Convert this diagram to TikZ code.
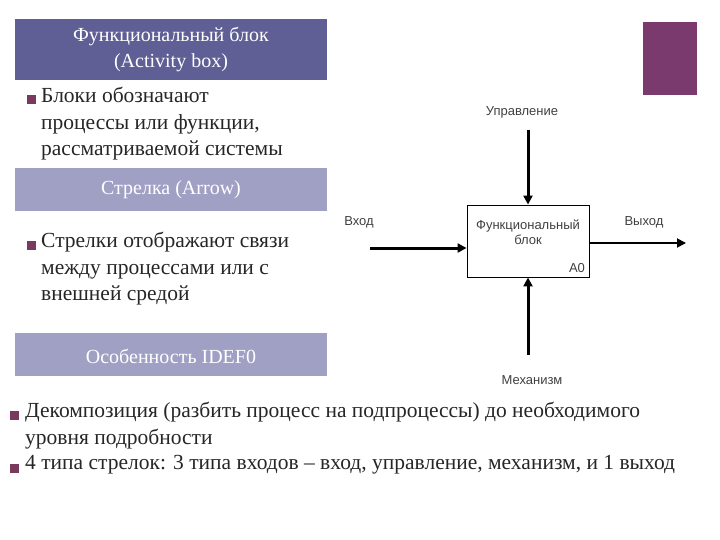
\documentclass[tikz,border=0pt]{standalone}
\usepackage{fontspec}
\setmainfont{Liberation Serif}
\newfontfamily\lsans{Liberation Sans}
\usetikzlibrary{arrows.meta}
\definecolor{hdark}{HTML}{5F5F96}
\definecolor{hlight}{HTML}{A0A0C4}
\definecolor{plum}{HTML}{7A3A6E}
\definecolor{bul}{HTML}{7A3A5E}
\tikzset{
 hdr/.style={inner sep=0pt,text=white,font=\fontsize{20}{26}\selectfont,align=center},
 txt/.style={anchor=north west,inner sep=0pt,align=left,font=\fontsize{21.5}{26.5}\selectfont,text=black!85},
 bsq/.style={fill=bul,minimum size=9pt,inner sep=0pt},
 lab/.style={font=\lsans\fontsize{13}{15}\selectfont,text=black!75,inner sep=0pt},
 arr/.style={line width=3pt,-{Triangle[length=9pt,width=9pt]}},
}
\begin{document}
\begin{tikzpicture}[x=1pt,y=-1pt]
\useasboundingbox (0,0) rectangle (720,540);
% headers
\fill[hdark] (15,19) rectangle (327,80);
\node[hdr] (h1) at (171,50) {Функциональный блок\\(Activity box)};
\fill[hlight] (15,168) rectangle (327,211);
\node[hdr] (h2) at (171,190) {Стрелка (Arrow)};
\fill[hlight] (15,333) rectangle (327,376);
\node[hdr] (h3) at (171,356) {Особенность IDEF0};
\fill[plum] (643,22) rectangle (697,95);
% bullets
\node[bsq] (b1) at (31,100) {};
\node[txt] (t1) at (41,87) {Блоки обозначают\\процессы или функции,\\рассматриваемой системы};
\node[bsq] (b2) at (31,245) {};
\node[txt] (t2) at (41,232) {Стрелки отображают связи\\между процессами или с\\внешней средой};
\node[bsq] (b3) at (14,415) {};
\node[txt] (t3) at (25,402) {Декомпозиция (разбить процесс на подпроцессы) до необходимого\\уровня подробности};
\node[bsq] (b4) at (14,468) {};
\node[txt] (t4) at (25,455) {4 типа стрелок: 3 типа входов -- вход, управление, механизм, и 1 выход};
% IDEF0 diagram
\node[draw=black,line width=0.9pt,minimum width=122pt,minimum height=72pt,inner sep=0pt] (box) at (528,241) {};
\node[lab,align=center] (bt) at (528,232) {Функциональный\\блок};
\node[lab] (a0) at (577,268) {A0};
\node[lab] (lc) at (522,112) {Управление};
\node[lab] (li) at (359,222) {Вход};
\node[lab] (lo) at (644,222) {Выход};
\node[lab] (lm) at (532,380) {Механизм};
\coordinate (cs) at (528,130);
\coordinate (is) at (370,248);
\coordinate (oe) at (686,243);
\coordinate (ms) at (528,355);
\draw[arr] (cs) -- (cs |- box.north);
\draw[arr] (is) -- (is -| box.west);
\draw[line width=1.8pt,-{Triangle[length=9pt,width=9pt]}] (oe -| box.east) -- (oe);
\draw[arr] (ms) -- (ms |- box.south);
\end{tikzpicture}
\end{document}
